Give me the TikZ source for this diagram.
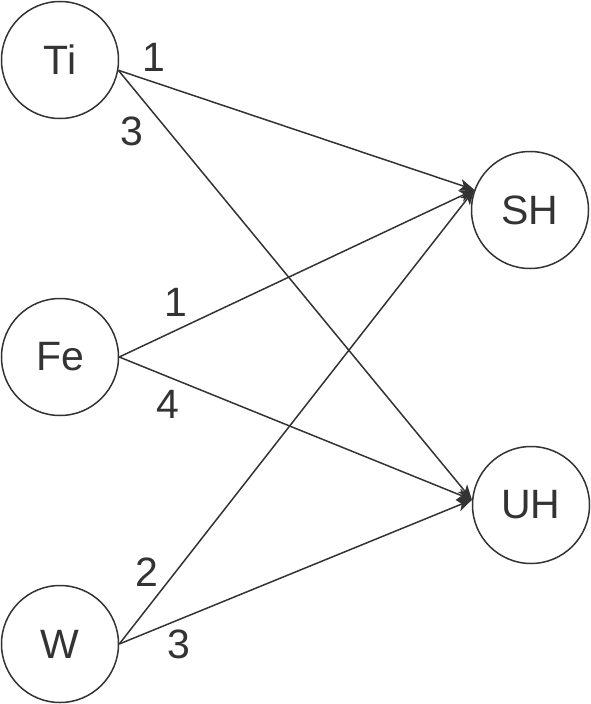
\documentclass[tikz,border=0pt]{standalone}
\usepackage{fontspec}
\setmainfont{Liberation Sans}
\usetikzlibrary{arrows.meta}
\definecolor{ink}{HTML}{333333}

\tikzset{
    elem/.style={circle, draw=ink, line width=1.5pt, minimum size=117pt,
        inner sep=0pt, text=ink, font=\fontsize{41}{41}\selectfont},
    wt/.style={text=ink, inner sep=0pt, font=\fontsize{41}{41}\selectfont},
    link/.style={draw=ink, line width=1.5pt,
        -{Stealth[length=15pt,width=12pt,inset=4pt]}}
}

\begin{document}
\begin{tikzpicture}[x=1pt,y=-1pt]
            \useasboundingbox (0,0) rectangle (591,704);
            % left column
            \node[elem] (Ti) at (60,60) {Ti};
            \node[elem] (Fe) at (60,357) {Fe};
            \node[elem] (W) at (60,644) {W};
            % right column
            \node[elem] (SH) at (530,210) {SH};
            \node[elem] (UH) at (531,505) {UH};
            \draw[link] (Ti.-10) -- (SH.160);
            \draw[link] (Ti.-10) -- (UH.175);
            \draw[link] (Fe.east) -- (SH.160);
            \draw[link] (Fe.east) -- (UH.175);
            \draw[link] (W.east) -- (SH.160);
            \draw[link] (W.east) -- (UH.175);
            % weights
            \node[wt] (tish) at (154,57) {1};
            \node[wt] (tiuh) at (132,131) {3};
            \node[wt] (fesh) at (176,302) {1};
            \node[wt] (feuh) at (168,404) {4};
            \node[wt] (wsh) at (147,572) {2};
            \node[wt] (wuh) at (179,644) {3};
        \end{tikzpicture}
\end{document}
